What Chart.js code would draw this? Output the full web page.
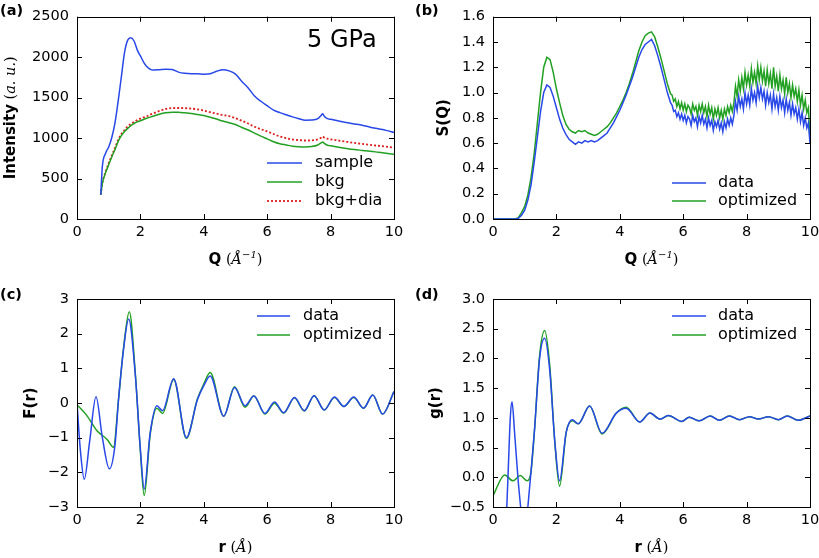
<!DOCTYPE html>
<html>
<head>
<meta charset="utf-8">
<script src="https://cdn.jsdelivr.net/npm/chart.js@4.4.1/dist/chart.umd.min.js"></script>
<style>
html, body { margin: 0; padding: 0; background: #fff; }
body { width: 819px; height: 558px; position: relative; overflow: hidden; }
canvas { position: absolute; }
</style>
</head>
<body>
<canvas id="pa" width="410" height="280" style="left:0;top:0"></canvas>
<canvas id="pb" width="420" height="280" style="left:410px;top:0"></canvas>
<canvas id="pc" width="410" height="278" style="left:0;top:280px"></canvas>
<canvas id="pd" width="420" height="278" style="left:410px;top:280px"></canvas>
<script>
// (a) raw intensity at 5 GPa
var aQ = [0.75, 0.8, 0.9, 1.0, 1.1, 1.2, 1.3, 1.4, 1.5, 1.6, 1.7, 1.8, 1.9, 2.0, 2.1, 2.2,
    2.4, 2.6, 2.8, 3.0, 3.2, 3.4, 3.6, 3.8, 4.0, 4.2, 4.4, 4.6, 4.8, 5.0, 5.2, 5.4, 5.6, 5.8,
    6.0, 6.2, 6.4, 6.6, 6.8, 7.0, 7.2, 7.4, 7.6, 7.7, 7.75, 7.8, 7.9, 8.0,
    8.25, 8.5, 8.75, 9.0, 9.25, 9.5, 9.75, 10.0];
var aSample = [300, 650, 810, 890, 1010, 1190, 1460, 1760, 2060, 2210, 2240, 2200, 2090, 2015, 1940, 1885,
    1840, 1845, 1850, 1848, 1815, 1800, 1795, 1795, 1790, 1795, 1825, 1845, 1830, 1790, 1700, 1620, 1520, 1455,
    1400, 1345, 1315, 1288, 1262, 1240, 1220, 1222, 1240, 1280, 1300, 1270, 1240, 1232,
    1210, 1192, 1175, 1158, 1135, 1115, 1095, 1070];
var aBkg = [300, 440, 570, 670, 770, 860, 960, 1030, 1080, 1120, 1155, 1180, 1200, 1215, 1230, 1245,
    1270, 1295, 1312, 1320, 1318, 1312, 1305, 1292, 1278, 1258, 1235, 1210, 1190, 1168, 1130, 1100, 1062, 1025,
    990, 955, 930, 915, 900, 893, 890, 895, 915, 940, 952, 935, 912, 905,
    888, 872, 858, 848, 838, 825, 812, 800];
var aBkgDia = [300, 450, 580, 690, 790, 880, 980, 1050, 1100, 1145, 1175, 1200, 1222, 1240, 1255, 1270,
    1305, 1335, 1360, 1370, 1372, 1370, 1365, 1355, 1340, 1320, 1302, 1285, 1272, 1245, 1215, 1180, 1140, 1110,
    1082, 1050, 1020, 998, 982, 975, 970, 972, 985, 1005, 1020, 1005, 992, 985,
    970, 955, 940, 928, 915, 905, 895, 882];

// (b) S(Q): Q grid 0..5.6 by 0.1, then 5.65..10 by 0.05
var bQ = [];
for (var i = 0; i <= 56; i++) bQ.push(i / 10);
for (var j = 1; j <= 88; j++) bQ.push(Math.round((5.6 + j * 0.05) * 100) / 100);
var bData = [0, 0, 0, 0, 0, 0, 0, 0,
    0.005, 0.03, 0.07, 0.15, 0.27, 0.45, 0.65, 0.85, 1.00, 1.06, 1.04, 0.97, 0.88, 0.79, 0.72, 0.67, 0.63, 0.61,
    0.59, 0.61, 0.60, 0.62, 0.61, 0.62, 0.61, 0.62, 0.64, 0.66, 0.68, 0.72, 0.76, 0.81, 0.86, 0.92, 0.98, 1.05,
    1.12, 1.20, 1.28, 1.34, 1.38, 1.40, 1.42, 1.37, 1.29, 1.20, 1.10, 1.00, 0.92,
    0.90, 0.85, 0.86, 0.81, 0.84, 0.79, 0.83, 0.78,
    0.82, 0.76, 0.81, 0.79, 0.74, 0.82, 0.77, 0.80, 0.73, 0.81,
    0.76, 0.82, 0.75, 0.79, 0.72, 0.80, 0.74, 0.78, 0.70, 0.77,
    0.73, 0.78, 0.71, 0.76, 0.69, 0.77, 0.72, 0.79, 0.74, 0.80,
    0.75, 0.82, 0.93, 0.86, 0.97, 0.89, 0.95, 0.87, 1.00, 0.91,
    0.98, 0.90, 1.03, 0.94, 1.00, 0.92, 1.05, 0.96, 1.04, 0.95,
    1.01, 0.90, 1.00, 0.92, 0.98, 0.87, 0.99, 0.89, 0.96, 0.86,
    0.97, 0.88, 0.94, 0.84, 0.95, 0.86, 0.92, 0.82, 0.91, 0.83,
    0.88, 0.79, 0.87, 0.77, 0.84, 0.74, 0.80, 0.72, 0.76, 0.60];
var bOpt = [0, 0, 0, 0, 0, 0, 0, 0,
    0.01, 0.05, 0.10, 0.19, 0.33, 0.52, 0.76, 1.00, 1.20, 1.28, 1.26, 1.16, 1.03, 0.92, 0.82, 0.75, 0.71, 0.69,
    0.68, 0.70, 0.69, 0.70, 0.68, 0.67, 0.66, 0.67, 0.69, 0.71, 0.73, 0.76, 0.80, 0.84, 0.89, 0.94, 1.00, 1.07,
    1.15, 1.24, 1.33, 1.40, 1.45, 1.47, 1.48, 1.44, 1.36, 1.27, 1.17, 1.07, 0.99,
    0.98, 0.93, 0.95, 0.89, 0.93, 0.87, 0.92, 0.86,
    0.91, 0.85, 0.90, 0.88, 0.83, 0.91, 0.86, 0.89, 0.82, 0.90,
    0.85, 0.91, 0.84, 0.89, 0.81, 0.90, 0.83, 0.88, 0.79, 0.87,
    0.82, 0.88, 0.80, 0.86, 0.79, 0.87, 0.82, 0.89, 0.84, 0.90,
    0.85, 0.92, 1.05, 0.97, 1.10, 1.01, 1.12, 1.03, 1.16, 1.06,
    1.14, 1.05, 1.19, 1.08, 1.16, 1.07, 1.21, 1.10, 1.20, 1.09,
    1.17, 1.05, 1.18, 1.07, 1.15, 1.03, 1.20, 1.05, 1.13, 1.01,
    1.14, 1.03, 1.10, 0.99, 1.12, 1.00, 1.07, 0.96, 1.06, 0.97,
    1.03, 0.93, 1.02, 0.90, 0.98, 0.87, 0.94, 0.84, 0.88, 0.62];

// (c) F(r)
var cDataR = [0, 0.1, 0.23, 0.4, 0.6, 0.8, 1.02, 1.2, 1.31, 1.47, 1.63, 1.84, 2.0, 2.12, 2.31, 2.52, 2.7, 3.05, 3.45, 3.8,
    4.0, 4.2, 4.63, 4.97, 5.3, 5.58, 5.93, 6.23, 6.52, 6.86, 7.17, 7.48, 7.8, 8.12, 8.42, 8.73, 9.04, 9.33, 9.64, 10.0];
var cDataF = [0, -1.3, -2.2, -1.1, 0.18, -1.0, -1.9, -1.2, 0.1, 1.56, 2.42, 0.8, -1.35, -2.48, -0.85, -0.08, -0.22, 0.7, -1.0, 0.1,
    0.5, 0.78, -0.38, 0.45, -0.08, 0.2, -0.3, 0.03, -0.28, 0.16, -0.22, 0.21, -0.2, 0.17, -0.1, 0.17, -0.15, 0.23, -0.32, 0.33];
var cOptR = [0, 0.3, 0.63, 0.95, 1.15, 1.31, 1.47, 1.65, 1.84, 2.0, 2.12, 2.31, 2.52, 2.7, 3.05, 3.45, 3.8, 4.0, 4.2, 4.63,
    4.97, 5.3, 5.58, 5.93, 6.23, 6.52, 6.86, 7.17, 7.48, 7.8, 8.12, 8.42, 8.73, 9.04, 9.33, 9.64, 10.0];
var cOptF = [-0.05, -0.35, -0.8, -1.05, -1.28, 0.1, 1.6, 2.63, 0.85, -1.4, -2.67, -0.9, -0.15, -0.3, 0.68, -1.02, 0.12, 0.55, 0.88, -0.38,
    0.47, -0.12, 0.2, -0.32, -0.01, -0.29, 0.15, -0.23, 0.21, -0.2, 0.16, -0.1, 0.16, -0.15, 0.23, -0.32, 0.33];

// (d) g(r)
var dDataR = [0.25, 0.47, 0.55, 0.6, 0.68, 0.79, 0.89, 1.0, 1.1, 1.2, 1.31, 1.47, 1.63, 1.79, 1.95, 2.1, 2.31, 2.5, 2.69, 3.05,
    3.44, 3.89, 4.2, 4.63, 4.95, 5.27, 5.53, 5.95, 6.19, 6.51, 6.85, 7.14, 7.46, 7.78, 8.09, 8.37, 8.69, 9.0, 9.28, 9.63, 10.0];
var dDataG = [-3.0, -0.03, 1.04, 1.27, 0.76, -0.03, -0.6, -1.2, -0.5, 0.1, 0.8, 2.0, 2.34, 1.8, 0.6, -0.06, 0.76, 0.97, 0.9, 1.2,
    0.74, 1.08, 1.16, 0.93, 1.08, 0.98, 1.04, 0.94, 1.01, 0.95, 1.03, 0.96, 1.03, 0.97, 1.02, 0.98, 1.02, 0.97, 1.03, 0.96, 1.03];
var dOptR = [0, 0.37, 0.63, 0.86, 1.08, 1.2, 1.31, 1.47, 1.63, 1.79, 1.95, 2.1, 2.31, 2.5, 2.69, 3.05, 3.44, 3.89, 4.2, 4.63,
    4.95, 5.27, 5.53, 5.95, 6.19, 6.51, 6.85, 7.14, 7.46, 7.78, 8.09, 8.37, 8.69, 9.0, 9.28, 9.63, 10.0];
var dOptG = [-0.31, 0.04, -0.06, 0.03, -0.06, 0.1, 0.8, 2.05, 2.47, 1.88, 0.59, -0.15, 0.76, 0.95, 0.9, 1.2, 0.73, 1.08, 1.18, 0.93,
    1.08, 0.98, 1.04, 0.94, 1.01, 0.95, 1.03, 0.96, 1.03, 0.97, 1.02, 0.98, 1.02, 0.97, 1.03, 0.96, 1.03];

var BLUE = '#2848e8';
var GREEN = '#22a022';
var RED = '#dd2020';
var SANS = "'DejaVu Sans', sans-serif";
var SERIF = "'DejaVu Serif', serif";

function pts(xs, ys) {
    return xs.map(function (x, k) { return { x: x, y: ys[k] }; });
}

function minus(s) { return String(s).replace('-', '\u2212'); }

// draw a row of differently styled text pieces centred on cx, baseline at y
function richText(ctx, parts, cx, y) {
    var w = 0;
    parts.forEach(function (p) { ctx.font = p.font; p.w = ctx.measureText(p.text).width; w += p.w; });
    var x = cx - w / 2;
    ctx.textAlign = 'left';
    ctx.textBaseline = 'alphabetic';
    parts.forEach(function (p) { ctx.font = p.font; ctx.fillText(p.text, x, y + (p.dy || 0)); x += p.w; });
}

var decor = {
    id: 'decor',
    afterDatasetsDraw: function (chart, args, o) {
        var ctx = chart.ctx, a = chart.chartArea;
        var xs = chart.scales.x, ys = chart.scales.y;
        ctx.save();
        ctx.strokeStyle = '#000';
        ctx.lineWidth = 1;
        ctx.setLineDash([]);
        ctx.beginPath();
        xs.ticks.forEach(function (t) {
            var px = Math.round(xs.getPixelForValue(t.value)) + 0.5;
            ctx.moveTo(px, a.bottom); ctx.lineTo(px, a.bottom - 5);
            ctx.moveTo(px, a.top); ctx.lineTo(px, a.top + 5);
        });
        ys.ticks.forEach(function (t) {
            var py = Math.round(ys.getPixelForValue(t.value)) + 0.5;
            ctx.moveTo(a.left, py); ctx.lineTo(a.left + 5, py);
            ctx.moveTo(a.right, py); ctx.lineTo(a.right - 5, py);
        });
        ctx.stroke();
        ctx.strokeRect(Math.round(a.left) + 0.5, Math.round(a.top) + 0.5,
            Math.round(a.right - a.left), Math.round(a.bottom - a.top));

        ctx.fillStyle = '#000';
        // panel letter
        ctx.font = 'bold 14.5px ' + SANS;
        ctx.textAlign = 'left';
        ctx.textBaseline = 'alphabetic';
        ctx.fillText(o.letter, o.letterX, o.letterY);

        // axis titles
        richText(ctx, o.xTitle, (a.left + a.right) / 2, o.xTitleY);
        ctx.save();
        ctx.translate(o.yTitleX, (a.top + a.bottom) / 2);
        ctx.rotate(-Math.PI / 2);
        richText(ctx, o.yTitle, 0, 0);
        ctx.restore();

        // legend inside the axes
        var lg = o.legend;
        chart.data.datasets.forEach(function (ds, k) {
            var y = lg.rows[k];
            ctx.save();
            ctx.strokeStyle = ds.borderColor;
            ctx.lineWidth = ds.borderWidth;
            ctx.setLineDash(ds.borderDash || []);
            ctx.beginPath();
            ctx.moveTo(lg.x1, y); ctx.lineTo(lg.x2, y);
            ctx.stroke();
            ctx.restore();
            ctx.font = '16px ' + SANS;
            ctx.textAlign = 'left';
            ctx.textBaseline = 'middle';
            ctx.fillText(ds.label, lg.tx, y);
        });

        if (o.note) {
            ctx.font = '24px ' + SANS;
            ctx.textAlign = 'left';
            ctx.textBaseline = 'alphabetic';
            ctx.fillText(o.note.text, o.note.x, o.note.y);
        }
        ctx.restore();
    }
};

var qTitle = [
    { text: 'Q', font: 'bold 15px ' + SANS },
    { text: ' (', font: '14.5px ' + SERIF },
    { text: '\u00c5', font: 'italic 14.5px ' + SERIF },
    { text: '\u22121', font: 'italic 10px ' + SERIF, dy: -6 },
    { text: ')', font: '14.5px ' + SERIF }
];
var rTitle = [
    { text: 'r', font: 'bold 15px ' + SANS },
    { text: ' (', font: '14.5px ' + SERIF },
    { text: '\u00c5', font: 'italic 14.5px ' + SERIF },
    { text: ')', font: '14.5px ' + SERIF }
];

function makeChart(id, datasets, p) {
    var tickFont = { family: SANS, size: 14.5 };
    var config = {
        type: 'line',
        data: { datasets: datasets },
        options: {
            responsive: false,
            animation: false,
            devicePixelRatio: 1,
            layout: { padding: p.padding },
            elements: { point: { radius: 0 } },
            scales: {
                x: {
                    type: 'linear',
                    min: 0,
                    max: 10,
                    grid: { display: false, drawTicks: false },
                    border: { display: false },
                    ticks: { stepSize: 2, autoSkip: false, maxRotation: 0, padding: 5, color: '#000', font: tickFont },
                    afterFit: function (s) { s.height = p.xHeight; }
                },
                y: {
                    type: 'linear',
                    min: p.yMin,
                    max: p.yMax,
                    grid: { display: false, drawTicks: false },
                    border: { display: false },
                    ticks: {
                        stepSize: p.yStep,
                        autoSkip: false,
                        padding: 8,
                        color: '#000',
                        font: tickFont,
                        callback: function (v) { return minus(v.toFixed(p.yDigits)); }
                    },
                    afterFit: function (s) { s.width = p.yWidth; }
                }
            },
            plugins: {
                legend: { display: false },
                tooltip: { enabled: false },
                decor: p.decor
            }
        },
        plugins: [decor]
    };
    return new Chart(document.getElementById(id).getContext('2d'), config);
}

function line(label, data, color, extra) {
    var ds = {
        label: label,
        data: data,
        borderColor: color,
        borderWidth: 1.5,
        fill: false,
        pointRadius: 0
    };
    for (var k in extra) ds[k] = extra[k];
    return ds;
}

makeChart('pa', [
    line('sample', pts(aQ, aSample), BLUE, { cubicInterpolationMode: 'monotone' }),
    line('bkg', pts(aQ, aBkg), GREEN, { cubicInterpolationMode: 'monotone' }),
    line('bkg+dia', pts(aQ, aBkgDia), RED, { cubicInterpolationMode: 'monotone', borderDash: [2, 2], borderWidth: 1.8 })
], {
    padding: { left: 0, right: 16, top: 12, bottom: 0 },
    xHeight: 61, yWidth: 77, yMin: 0, yMax: 2500, yStep: 500, yDigits: 0,
    decor: {
        letter: '(a)', letterX: 0, letterY: 15,
        xTitle: qTitle, xTitleY: 264,
        yTitleX: 15,
        yTitle: [
            { text: 'Intensity', font: 'bold 15px ' + SANS },
            { text: ' (', font: '14.5px ' + SERIF },
            { text: 'a. u.', font: 'italic 14.5px ' + SERIF },
            { text: ')', font: '14.5px ' + SERIF }
        ],
        legend: { x1: 267, x2: 302, tx: 315, rows: [163, 182, 201] },
        note: { text: '5 GPa', x: 307, y: 47 }
    }
});

makeChart('pb', [
    line('data', pts(bQ, bData), BLUE, {}),
    line('optimized', pts(bQ, bOpt), GREEN, {})
], {
    padding: { left: 0, right: 20, top: 12, bottom: 0 },
    xHeight: 61, yWidth: 83, yMin: 0, yMax: 1.6, yStep: 0.2, yDigits: 1,
    decor: {
        letter: '(b)', letterX: 5, letterY: 15,
        xTitle: qTitle, xTitleY: 264,
        yTitleX: 38,
        yTitle: [{ text: 'S(Q)', font: 'bold 15px ' + SANS }],
        legend: { x1: 262, x2: 296, tx: 308, rows: [183, 201] }
    }
});

makeChart('pc', [
    line('data', pts(cDataR, cDataF), BLUE, { cubicInterpolationMode: 'monotone' }),
    line('optimized', pts(cOptR, cOptF), GREEN, { cubicInterpolationMode: 'monotone' })
], {
    padding: { left: 0, right: 16, top: 19, bottom: 0 },
    xHeight: 51, yWidth: 77, yMin: -3, yMax: 3, yStep: 1, yDigits: 0,
    decor: {
        letter: '(c)', letterX: 0, letterY: 19,
        xTitle: rTitle, xTitleY: 272,
        yTitleX: 35,
        yTitle: [{ text: 'F(r)', font: 'bold 15px ' + SANS }],
        legend: { x1: 257, x2: 290, tx: 303, rows: [36, 55] }
    }
});

makeChart('pd', [
    line('data', pts(dDataR, dDataG), BLUE, { cubicInterpolationMode: 'monotone' }),
    line('optimized', pts(dOptR, dOptG), GREEN, { cubicInterpolationMode: 'monotone' })
], {
    padding: { left: 0, right: 20, top: 19, bottom: 0 },
    xHeight: 51, yWidth: 83, yMin: -0.5, yMax: 3, yStep: 0.5, yDigits: 1,
    decor: {
        letter: '(d)', letterX: 5, letterY: 19,
        xTitle: rTitle, xTitleY: 272,
        yTitleX: 30,
        yTitle: [{ text: 'g(r)', font: 'bold 15px ' + SANS }],
        legend: { x1: 262, x2: 296, tx: 308, rows: [36, 55] }
    }
});
</script>
</body>
</html>
